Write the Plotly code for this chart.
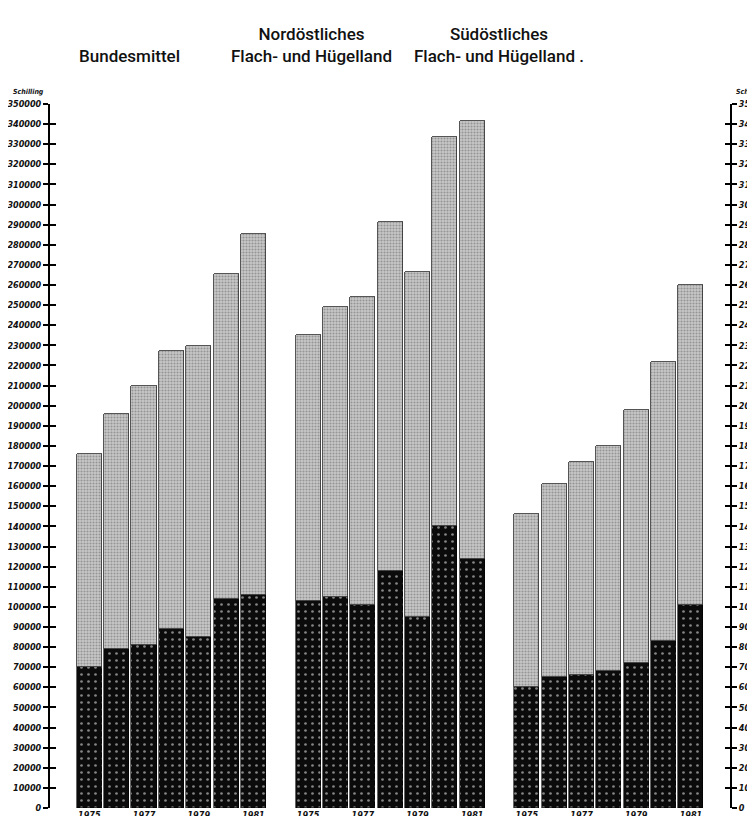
import plotly.graph_objects as go

years = ["1975", "1976", "1977", "1978", "1979", "1980", "1981"]
groups = ["Bundesmittel", "Nordöstliches<br>Flach- und Hügelland", "Südöstliches<br>Flach- und Hügelland ."]

bund_total = [176000, 196000, 210000, 227000, 229500, 265500, 285500]
bund_dark = [70000, 79000, 81000, 89000, 85000, 104000, 106000]
no_total = [235000, 249000, 254000, 291500, 266500, 333500, 341500]
no_dark = [103000, 105000, 101000, 118000, 95000, 140000, 124000]
so_total = [146000, 161000, 172000, 180000, 198000, 221500, 260000]
so_dark = [60000, 65000, 66000, 68000, 72000, 83000, 101000]

totals = [bund_total, no_total, so_total]
darks = [bund_dark, no_dark, so_dark]

tick_values = list(range(0, 350001, 10000))
tick_labels = [str(v) for v in tick_values]
shown_years = ["1975", "1977", "1979", "1981"]

W, H = 755, 816
L, R, T, B = 42, 33, 96, 16

fig = go.Figure()
xs, dk, lt = [], [], []
for g in range(3):
    for i, yr in enumerate(years):
        xs.append(g * 8 + i)
        dk.append(darks[g][i])
        lt.append(totals[g][i] - darks[g][i])

fig.add_trace(go.Bar(
    x=xs, y=dk, width=0.92,
    marker=dict(color="#0b0b0b", line=dict(color="#000", width=0.6),
                pattern=dict(shape=".", fgcolor="#ffffff", bgcolor="#0b0b0b", size=7, solidity=0.12)),
    showlegend=False, hoverinfo="skip"))
fig.add_trace(go.Bar(
    x=xs, y=lt, width=0.92,
    marker=dict(color="#bdbdbd", line=dict(color="#2a2a2a", width=0.8),
                pattern=dict(shape=".", fgcolor="#5f5f5f", bgcolor="#c8c8c8", size=3, solidity=0.4)),
    showlegend=False, hoverinfo="skip"))

xtv, xtt = [], []
for g in range(3):
    for i, yr in enumerate(years):
        if yr in shown_years:
            xtv.append(g * 8 + i)
            xtt.append(yr)

tickfont = dict(family="Liberation Sans Narrow, DejaVu Sans Condensed, Arial Narrow, sans-serif", size=9,
                color="#111", style="italic", weight="bold")

common_y = dict(range=[0, 350000], tickvals=tick_values, showgrid=False, zeroline=False,
                showline=True, linecolor="#000", linewidth=2, tickcolor="#000", tickwidth=1.5)

fig.update_layout(
    width=W, height=H, barmode="stack", bargap=0,
    margin=dict(l=L, r=R, t=T, b=B, autoexpand=False),
    paper_bgcolor="white", plot_bgcolor="white",
    xaxis=dict(range=[-1.44, 23.43], tickvals=xtv, ticktext=xtt, ticks="", showgrid=False,
               zeroline=False, showline=False, tickfont=tickfont, ticklabelstandoff=0,
               ticklabeloverflow="allow"),
    yaxis=dict(**common_y, ticktext=tick_labels, ticks="outside", ticklen=5, tickfont=tickfont, side="left",
               ticklabelstandoff=0, ticklabeloverflow="allow"),
    yaxis2=dict(**common_y, overlaying="y", side="left", ticks="inside", ticklen=6, showticklabels=False),
    yaxis3=dict(**common_y, overlaying="y", side="right", ticks="outside", ticklen=5,
                ticktext=tick_labels, tickfont=tickfont, ticklabelstandoff=0, ticklabeloverflow="allow"),
    yaxis4=dict(**common_y, overlaying="y", side="right", ticks="inside", ticklen=5, showticklabels=False),
)
for ax in ["y2", "y3", "y4"]:
    fig.add_trace(go.Scatter(x=[0], y=[0], yaxis=ax, mode="markers", marker=dict(opacity=0),
                             showlegend=False, hoverinfo="skip"))

titlefont = dict(family="Roboto, Liberation Sans, Arial, sans-serif", size=17, color="#111", weight=500)
title_x = [121, 303, 491]
title_y = [48, 37, 37]
for g, txt in enumerate(groups):
    fig.add_annotation(text=txt, x=(title_x[g] - L) / (W - L - R), y=(H - B - title_y[g]) / (H - T - B),
                       xref="paper", yref="paper", showarrow=False, font=titlefont, align="center",
                       xanchor="center", yanchor="middle")

smallfont = dict(family="Liberation Sans Narrow, DejaVu Sans Condensed, sans-serif", size=7, color="#111",
                 style="italic", weight="bold")
for px, anchor in [(38, "right"), (726, "left")]:
    fig.add_annotation(text="Schilling", x=(px - L) / (W - L - R), y=(H - B - 84) / (H - T - B),
                       xref="paper", yref="paper", showarrow=False, font=smallfont,
                       xanchor=anchor, yanchor="middle")

fig.write_html("out.html")
